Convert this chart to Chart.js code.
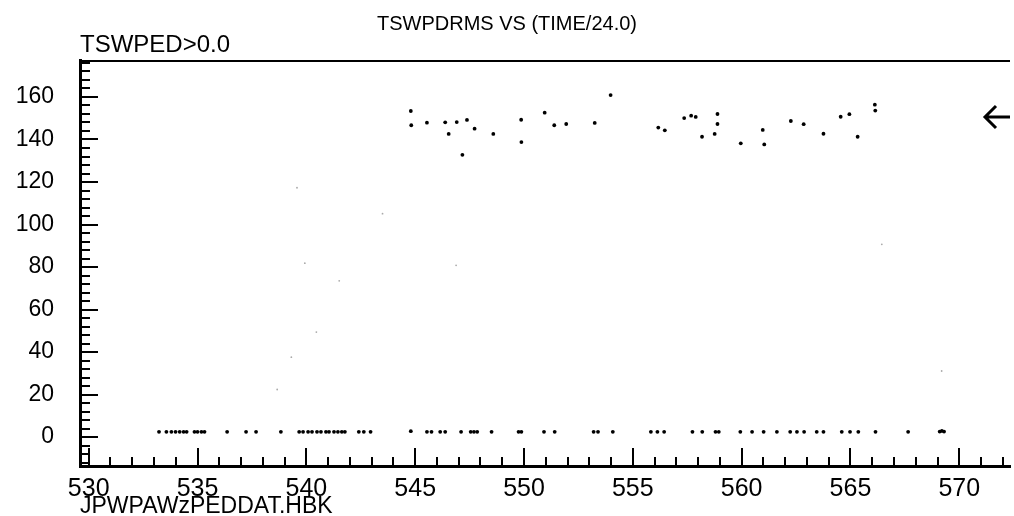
<!DOCTYPE html>
<html>
<head>
<meta charset="utf-8">
<script src="https://cdn.jsdelivr.net/npm/chart.js@4/dist/chart.umd.min.js"></script>
<style>
html,body{margin:0;padding:0;background:#fff;}
#wrap{width:1014px;height:516px;position:relative;}
</style>
</head>
<body>
<div id="wrap"><canvas id="c"></canvas></div>
<script>
// ---- data ----
const titleText = 'TSWPDRMS VS (TIME/24.0)';
const cutText = 'TSWPED>0.0';
const fileText = 'JPWPAWzPEDDAT.HBK';

const xTickLabels = [530, 535, 540, 545, 550, 555, 560, 565, 570];
const yTickLabels = [0, 20, 40, 60, 80, 100, 120, 140, 160];

// upper cluster (TSWPDRMS ~ 130-160)
const highX = [544.80, 544.82, 545.54, 546.38, 546.54, 546.91, 547.38, 547.73, 547.17, 548.59,
               549.87, 549.88, 550.95, 551.39, 551.94, 553.25, 553.98, 556.17, 556.47, 557.36,
               557.68, 557.89, 558.89, 558.89, 558.76, 558.18, 559.96, 560.97, 561.04, 562.26,
               562.85, 563.76, 564.55, 564.95, 565.33, 566.12, 566.14];
const highY = [153.4, 146.7, 147.9, 148.1, 142.6, 148.2, 149.2, 145.1, 132.8, 142.6,
               149.3, 138.8, 152.6, 146.7, 147.3, 147.8, 160.9, 145.6, 144.3, 150.1,
               151.2, 150.6, 152.0, 147.3, 142.6, 141.3, 138.2, 144.5, 137.7, 148.7,
               147.2, 142.7, 150.7, 151.9, 141.3, 156.4, 153.6];

// lower row (TSWPDRMS ~ 2.5)
const lowX = [533.23, 533.57, 533.80, 533.99, 534.18, 534.36, 534.50, 534.86, 535.00, 535.18,
              535.32, 536.36, 537.23, 537.69, 538.83, 539.67, 539.85, 540.08, 540.26, 540.49,
              540.67, 540.90, 541.04, 541.27, 541.45, 541.63, 541.77, 542.41, 542.64, 542.95,
              544.80, 545.54, 545.75, 546.15, 546.38, 547.11, 547.55, 547.70, 547.85, 548.51,
              549.75, 549.88, 550.92, 551.41, 553.20, 553.40, 554.08, 555.83, 556.13, 556.44,
              557.74, 558.19, 558.80, 558.95, 559.94, 560.48, 561.01, 561.62, 562.23, 562.54,
              562.87, 563.45, 563.76, 564.60, 564.98, 565.36, 566.15, 567.65, 569.10, 569.20,
              569.30];
const lowY = [2.5, 2.5, 2.5, 2.5, 2.5, 2.5, 2.5, 2.5, 2.5, 2.5,
              2.5, 2.5, 2.5, 2.5, 2.5, 2.5, 2.5, 2.5, 2.5, 2.5,
              2.5, 2.5, 2.5, 2.5, 2.5, 2.5, 2.5, 2.5, 2.5, 2.5,
              2.8, 2.5, 2.5, 2.5, 2.5, 2.5, 2.5, 2.5, 2.5, 2.5,
              2.5, 2.5, 2.5, 2.5, 2.5, 2.5, 2.5, 2.5, 2.5, 2.5,
              2.5, 2.5, 2.5, 2.5, 2.5, 2.5, 2.5, 2.5, 2.5, 2.5,
              2.5, 2.5, 2.5, 2.5, 2.5, 2.5, 2.5, 2.5, 2.6, 2.9, 2.6];

// faint scattered points
const faintX = [539.57, 543.50, 539.93, 546.88, 541.51, 540.46, 539.31, 538.66, 566.44, 569.19];
const faintY = [117.3, 105.1, 81.8, 80.8, 73.5, 49.4, 37.6, 22.4, 90.7, 31.1];

const arrowValue = 150.6;

const xRange = [529.6, 572.33];
const yRange = [-13.6, 177.4];

// ---- build chart ----
function pts(xs, ys) { return xs.map((x, i) => ({x: x, y: ys[i]})); }

const FONT = "'Liberation Sans', Arial, sans-serif";

const decor = {
  id: 'decor',
  afterDraw(chart) {
    const ctx = chart.ctx, a = chart.chartArea;
    const xs = chart.scales.x, ys = chart.scales.y;
    ctx.save();
    ctx.strokeStyle = '#000';
    ctx.fillStyle = '#000';
    // top frame
    ctx.lineWidth = 2;
    ctx.beginPath(); ctx.moveTo(a.left, a.top + 1); ctx.lineTo(a.right, a.top + 1); ctx.stroke();
    // inward ticks on x
    ctx.lineWidth = 2;
    xs.ticks.forEach(t => {
      const px = Math.round(xs.getPixelForValue(t.value));
      const major = xTickLabels.includes(t.value);
      const len = major ? 18 : 9;
      ctx.beginPath(); ctx.moveTo(px, a.bottom); ctx.lineTo(px, a.bottom - len); ctx.stroke();
    });
    ys.ticks.forEach(t => {
      const py = Math.round(ys.getPixelForValue(t.value));
      const major = yTickLabels.includes(t.value);
      const len = major ? 18 : 10;
      ctx.beginPath(); ctx.moveTo(a.left, py); ctx.lineTo(a.left + len, py); ctx.stroke();
    });
    // arrow on the right
    const ay = ys.getPixelForValue(arrowValue);
    const ax = a.right - 25;
    ctx.lineWidth = 3;
    ctx.beginPath();
    ctx.moveTo(a.right, ay); ctx.lineTo(ax, ay);
    ctx.moveTo(ax + 11, ay - 11); ctx.lineTo(ax, ay); ctx.lineTo(ax + 11, ay + 11);
    ctx.stroke();
    // texts
    ctx.textAlign = 'left';
    ctx.textBaseline = 'alphabetic';
    ctx.font = '24px ' + FONT;
    ctx.fillText(cutText, a.left, 52);
    ctx.font = '23px ' + FONT;
    ctx.fillText(fileText, a.left, 513);
    ctx.restore();
  }
};

new Chart(document.getElementById('c'), {
  type: 'scatter',
  data: {
    datasets: [
      { data: pts(highX, highY), backgroundColor: '#000', borderWidth: 0, pointRadius: 1.9 },
      { data: pts(lowX, lowY), backgroundColor: '#000', borderWidth: 0, pointRadius: 1.9 },
      { data: pts(faintX, faintY), backgroundColor: '#aaa', borderWidth: 0, pointRadius: 0.9 }
    ]
  },
  options: {
    responsive: true,
    maintainAspectRatio: false,
    animation: false,
    layout: { padding: 0 },
    plugins: {
      legend: { display: false },
      tooltip: { enabled: false },
      title: {
        display: true, text: titleText, color: '#000',
        font: { family: FONT, size: 20, weight: 'normal' },
        padding: { top: 12, bottom: 24 }
      }
    },
    scales: {
      x: {
        type: 'linear', min: xRange[0], max: xRange[1],
        afterBuildTicks(s) {
          const t = [];
          for (let v = 530; v <= 572; v++) t.push({ value: v });
          s.ticks = t;
        },
        afterFit(s) { s.height = 50; s.paddingLeft = 0; s.paddingRight = 0; },
        grid: { display: false, drawTicks: false },
        border: { display: true, color: '#000', width: 3 },
        ticks: {
          autoSkip: false, maxRotation: 0, padding: 8, color: '#000',
          font: { family: FONT, size: 25 },
          callback: v => xTickLabels.includes(v) ? String(v) : ''
        }
      },
      y: {
        type: 'linear', min: yRange[0], max: yRange[1],
        afterBuildTicks(s) {
          const t = [];
          for (let v = -12; v <= 176; v += 4) t.push({ value: v });
          s.ticks = t;
        },
        afterFit(s) { s.width = 80; s.paddingTop = 0; s.paddingBottom = 0; },
        grid: { display: false, drawTicks: false },
        border: { display: true, color: '#000', width: 3 },
        ticks: {
          autoSkip: false, padding: 26, color: '#000',
          font: { family: FONT, size: 23 },
          callback: v => yTickLabels.includes(v) ? String(v) : ''
        }
      }
    }
  },
  plugins: [decor]
});
</script>
</body>
</html>
